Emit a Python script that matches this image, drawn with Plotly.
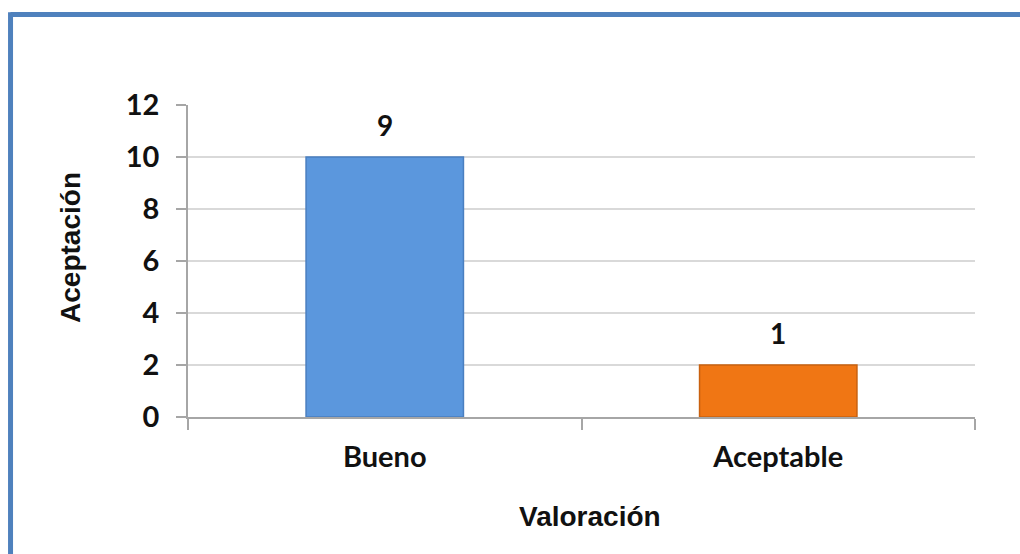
import plotly.graph_objects as go

categories = ["Bueno", "Aceptable"]
bar_values = [10, 2]
label_texts = ["9", "1"]
bar_colors = ["#5B97DD", "#F07614"]
bar_edges = ["#4A7FC0", "#C9610F"]
y_ticks = [0, 2, 4, 6, 8, 10, 12]
x_title = "Valoración"
y_title = "Aceptación"

fig = go.Figure()
fig.add_trace(go.Bar(
    x=categories, y=bar_values,
    marker=dict(color=bar_colors, line=dict(color=bar_edges, width=1.5)),
    width=0.4,
))

for cat, val, txt in zip(categories, bar_values, label_texts):
    fig.add_annotation(
        x=cat, y=val, text=txt, showarrow=False,
        yanchor="bottom", yshift=13,
        font=dict(family="Lato", size=28, color="#111111", weight="bold"),
    )

title_font = dict(family="Liberation Sans", size=28, color="#111111", weight="bold")
fig.add_annotation(text=x_title, xref="paper", yref="paper", x=0.511, y=-0.3205,
                   xanchor="center", yanchor="middle", showarrow=False, font=title_font)
fig.add_annotation(text=y_title, xref="paper", yref="paper", x=-0.1487, y=0.545,
                   xanchor="center", yanchor="middle", showarrow=False, textangle=-90, font=title_font)

fig.update_layout(
    width=1020, height=554,
    margin=dict(l=188, r=45, t=105, b=137),
    paper_bgcolor="white", plot_bgcolor="white",
    showlegend=False,
    font=dict(family="Lato", size=28, color="#111111"),
    shapes=[
        dict(type="line", xref="paper", yref="paper", x0=-0.2255, x1=1.06, y0=1.29, y1=1.29,
             line=dict(color="#4F81BD", width=5)),
        dict(type="line", xref="paper", yref="paper", x0=-0.2255, x1=-0.2255, y0=-0.45, y1=1.297,
             line=dict(color="#4F81BD", width=5)),
    ],
)

fig.update_xaxes(
    showline=True, linecolor="#A6A6A6", linewidth=1.5,
    ticks="outside", ticklen=11, tickcolor="#A6A6A6", tickwidth=1.5,
    tickson="boundaries",
    tickfont=dict(family="Lato", size=29, color="#111111", weight="bold"),
    ticklabelstandoff=13,
    showgrid=False,
)
fig.update_yaxes(
    range=[0, 12], tickvals=y_ticks,
    showline=True, linecolor="#A6A6A6", linewidth=1.5,
    ticks="outside", ticklen=10, tickcolor="#A6A6A6", tickwidth=1.5,
    showgrid=True, gridcolor="#D9D9D9", gridwidth=1.5,
    zeroline=False,
    tickfont=dict(family="Lato", size=29, color="#111111", weight="bold"),
    ticklabelstandoff=11,
)

fig.write_html("out.html")
